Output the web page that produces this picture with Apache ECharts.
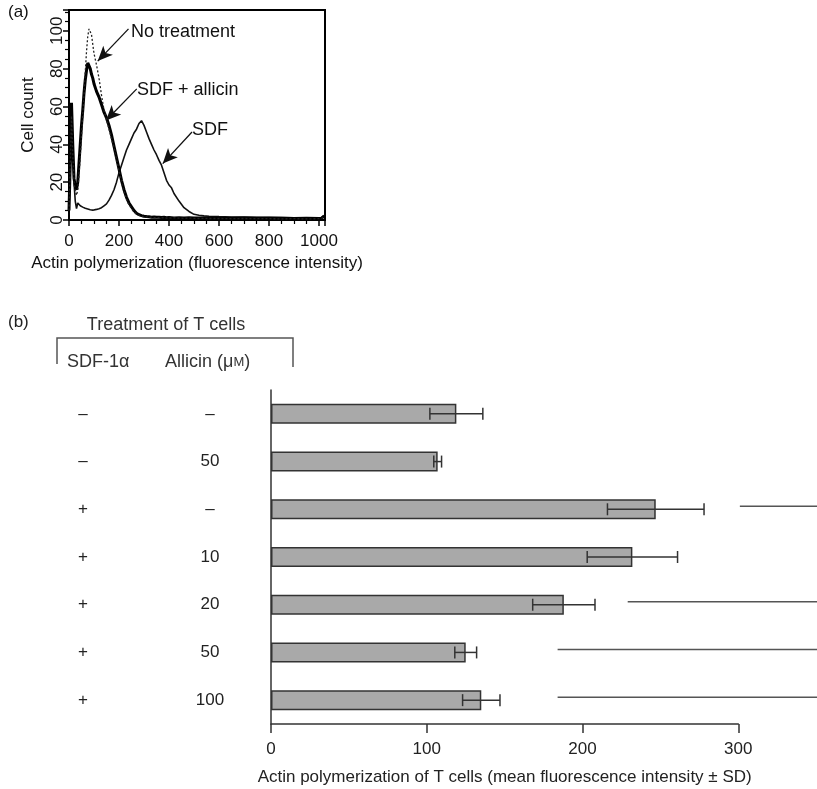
<!DOCTYPE html>
<html><head><meta charset="utf-8">
<script src="https://cdn.jsdelivr.net/npm/echarts@6/dist/echarts.min.js"></script>
<style>html,body{margin:0;padding:0;background:#fff}#c{width:817px;height:789px}</style>
</head><body><div id="c"></div>
<script>
// ---------- Panel (a): flow cytometry histograms ----------
const channels = [0,5,10,15,20,25,30,35,40,45,50,55,60,65,70,75,80,85,90,95,100,
  110,120,130,140,150,160,170,180,190,200,210,220,230,240,250,260,270,280,290,300,310,320,330,340,350,360,370,380,390,400,410,420,
  440,460,480,500,520,540,560,600,650,700,750,800,850,900,950,1000,1010,1020];
const noTreatment = [5,28,55,35,20,15,13,16,24,34,45,55,66,78,89,97,101,102,98,93,88,
  82,75,66,58,53,48,43,38,32,26,20,15,11,8,6,4.2,3.2,2.5,2,1.7,1.6,1.4,1.5,1.3,1.2,1.3,1.1,1.2,1,1.1,1,1.1,
  1,0.9,1,0.9,0.8,0.9,0.8,0.8,0.7,0.8,0.7,0.7,0.6,0.7,0.6,0.7,0.8,1.5];
const sdfAllicin = [5,30,62,40,22,18,16,20,30,40,50,58,67,74,79,83,84,80,77,75,72,
  68,65,61,57,54,50,45,39,33,27,21,16,12,9,7,5,3.6,2.8,2.3,2,1.8,1.7,1.5,1.6,1.4,1.5,1.3,1.4,1.2,1.3,1.2,1.1,
  1.2,1.1,1.2,1,1.1,1,1.1,1,0.9,1,0.9,1,0.9,0.8,0.9,0.8,1,2];
const sdf = [5,30,60,38,20,10,6,9,8,7.5,7,6.8,6.5,6.2,6,5.8,5.5,5.4,5.2,5.2,5.3,
  5.6,6,6.5,7.5,8.5,10.5,13,16,20,25,29,33,37,40,43,46,48,51,52.5,50,46.5,43,40,37,34.5,31.5,29,25,21,18.5,17,14,
  10,6.5,4.5,3,2.5,2.2,2,1.8,1.6,1.5,1.4,1.3,1.3,1.2,1.2,1.1,1.3,2.5];

// ---------- Panel (b): bar chart ----------
const sdfLabels = ['–','–','+','+','+','+','+'];
const allicinLabels = ['–','50','–','10','20','50','100'];
const meanIntensity = [119,107,247,232,188,125,135];
const sdIntensity = [17,2.5,31,29,20,7,12];
const lineStarts = [null,null,301,null,229,184,184];

const FONT = "'Liberation Sans', Arial, Helvetica, sans-serif";
const chart = echarts.init(document.getElementById('c'));
const pair = (xs, ys) => xs.map((x, i) => [x, ys[i]]);
const cats = sdfLabels.map((_, i) => 'r' + i);

const option = {
  animation: false,
  backgroundColor: '#fff',
  textStyle: { fontFamily: FONT },
  grid: [
    { left: 69, top: 10, right: 492, bottom: 569, show: true, borderColor: '#000', borderWidth: 2, backgroundColor: 'transparent' },
    { left: 271, top: 390, right: 78.7, bottom: 65 }
  ],
  xAxis: [
    { type: 'value', gridIndex: 0, min: 0, max: 1024, interval: 200,
      name: 'Actin polymerization (fluorescence intensity)', nameLocation: 'middle', nameGap: 35,
      nameTextStyle: { fontSize: 17, color: '#111', fontFamily: FONT },
      axisLine: { show: true, lineStyle: { color: '#000', width: 2 } },
      axisTick: { show: true, length: 6, lineStyle: { color: '#000', width: 1.5 } },
      minorTick: { show: true, splitNumber: 4, length: 4, lineStyle: { color: '#000', width: 1.2 } },
      splitLine: { show: false },
      axisLabel: { fontSize: 17, color: '#111', margin: 13, showMaxLabel: false, fontFamily: FONT,
        formatter: v => String(v) } },
    { type: 'value', gridIndex: 1, min: 0, max: 300, interval: 100,
      name: 'Actin polymerization of T cells (mean fluorescence intensity ± SD)', nameLocation: 'middle', nameGap: 45,
      nameTextStyle: { fontSize: 17, color: '#222', fontFamily: FONT },
      axisLine: { show: true, lineStyle: { color: '#333', width: 1.5 } },
      axisTick: { show: true, length: 9, lineStyle: { color: '#333', width: 1.5 } },
      splitLine: { show: false },
      axisLabel: { fontSize: 17, color: '#222', margin: 17, fontFamily: FONT } }
  ],
  yAxis: [
    { type: 'value', gridIndex: 0, min: 0, max: 111, interval: 20,
      name: 'Cell count', nameLocation: 'middle', nameGap: 32,
      nameTextStyle: { fontSize: 17, color: '#111', fontFamily: FONT },
      axisLine: { show: true, lineStyle: { color: '#000', width: 2 } },
      axisTick: { show: true, length: 6, lineStyle: { color: '#000', width: 1.5 } },
      minorTick: { show: true, splitNumber: 4, length: 4, lineStyle: { color: '#000', width: 1.2 } },
      splitLine: { show: false },
      axisLabel: { fontSize: 17, color: '#111', rotate: 90, margin: 3, showMaxLabel: false, fontFamily: FONT } },
    { type: 'category', gridIndex: 1, data: cats, inverse: true, position: 'left',
      axisLine: { show: true, lineStyle: { color: '#333', width: 1.5 } },
      axisTick: { show: false },
      axisLabel: { fontSize: 17, color: '#222', margin: 188, align: 'center', fontFamily: FONT,
        formatter: (v, i) => sdfLabels[i] } },
    { type: 'category', gridIndex: 1, data: cats, inverse: true, position: 'left',
      axisLine: { show: false }, axisTick: { show: false },
      axisLabel: { fontSize: 17, color: '#222', margin: 61, align: 'center', fontFamily: FONT,
        formatter: (v, i) => allicinLabels[i] } }
  ],
  series: [
    { type: 'line', name: 'SDF', xAxisIndex: 0, yAxisIndex: 0, data: pair(channels, sdf),
      showSymbol: false, lineStyle: { color: '#111', width: 1.6 }, z: 3,
      markLine: { silent: true, symbol: ['none', 'arrow'], symbolSize: [10, 15],
        lineStyle: { color: '#111', width: 1.3, type: 'solid' }, label: { show: false },
        data: [
          [{ coord: [238, 101] }, { coord: [115, 84] }],
          [{ coord: [271, 69.3] }, { coord: [148, 52.6] }],
          [{ coord: [492, 46.5] }, { coord: [375, 29.8] }]
        ] } },
    { type: 'line', name: 'SDF + allicin', xAxisIndex: 0, yAxisIndex: 0, data: pair(channels, sdfAllicin),
      showSymbol: false, lineStyle: { color: '#000', width: 3 }, z: 4 },
    { type: 'line', name: 'No treatment', xAxisIndex: 0, yAxisIndex: 0, data: pair(channels, noTreatment),
      showSymbol: false, lineStyle: { color: '#222', width: 1.3, type: [2, 2] }, z: 5 },
    { type: 'bar', xAxisIndex: 1, yAxisIndex: 1, data: meanIntensity, barWidth: 20,
      itemStyle: { color: '#a9a9a9', borderColor: '#333', borderWidth: 1.5 } },
    { type: 'custom', xAxisIndex: 1, yAxisIndex: 1, z: 5,
      data: meanIntensity.map((m, i) => [m - sdIntensity[i], m + sdIntensity[i], i]),
      encode: { x: [0, 1], y: 2 },
      renderItem: (params, api) => {
        const lo = api.coord([api.value(0), api.value(2)]);
        const hi = api.coord([api.value(1), api.value(2)]);
        const y = lo[1], h = 6;
        const st = { stroke: '#333', lineWidth: 1.5 };
        return { type: 'group', children: [
          { type: 'line', shape: { x1: lo[0], y1: y, x2: hi[0], y2: y }, style: st },
          { type: 'line', shape: { x1: lo[0], y1: y - h, x2: lo[0], y2: y + h }, style: st },
          { type: 'line', shape: { x1: hi[0], y1: y - h, x2: hi[0], y2: y + h }, style: st }
        ] };
      } },
    { type: 'custom', xAxisIndex: 1, yAxisIndex: 1, clip: false, z: 2,
      data: lineStarts.map((s, i) => s == null ? null : [s, 360, i]).filter(d => d),
      encode: { x: 0, y: 2 },
      renderItem: (params, api) => {
        const a = api.coord([api.value(0), api.value(2)]);
        const b = api.coord([api.value(1), api.value(2)]);
        return { type: 'line', shape: { x1: a[0], y1: a[1] - 3, x2: b[0], y2: b[1] - 3 },
          style: { stroke: '#555', lineWidth: 1.5 } };
      } }
  ],
  graphic: [
    { type: 'text', style: { text: '(a)', x: 8, y: 12, font: '17px ' + FONT, fill: '#111', textVerticalAlign: 'middle', verticalAlign: 'middle' } },
    { type: 'text', style: { text: 'No treatment', x: 131, y: 32, font: '18px ' + FONT, fill: '#111', textVerticalAlign: 'middle', verticalAlign: 'middle' } },
    { type: 'text', style: { text: 'SDF + allicin', x: 137, y: 90, font: '18px ' + FONT, fill: '#111', textVerticalAlign: 'middle', verticalAlign: 'middle' } },
    { type: 'text', style: { text: 'SDF', x: 192, y: 130, font: '18px ' + FONT, fill: '#111', textVerticalAlign: 'middle', verticalAlign: 'middle' } },
    { type: 'text', style: { text: '(b)', x: 8, y: 322, font: '17px ' + FONT, fill: '#222', textVerticalAlign: 'middle', verticalAlign: 'middle' } },
    { type: 'text', style: { text: 'Treatment of T cells', x: 166, y: 325, font: '18px ' + FONT, fill: '#333', textAlign: 'center', align: 'center', textVerticalAlign: 'middle', verticalAlign: 'middle' } },
    { type: 'polyline', shape: { points: [[57, 364], [57, 338], [293, 338], [293, 367]] }, style: { stroke: '#555', lineWidth: 1.5, fill: null } },
    { type: 'text', style: { text: 'SDF-1α', x: 67, y: 362, font: '18px ' + FONT, fill: '#333', textVerticalAlign: 'middle', verticalAlign: 'middle' } },
    { type: 'text', style: { text: '{a|Allicin (μ}{b|M}{a|)}', x: 165, y: 362, textVerticalAlign: 'middle', verticalAlign: 'middle',
      rich: { a: { fontSize: 18, fontFamily: FONT, fill: '#333', color: '#333' }, b: { fontSize: 13, fontFamily: FONT, fill: '#333', color: '#333' } } } }
  ]
};
chart.setOption(option);
</script>
</body></html>
